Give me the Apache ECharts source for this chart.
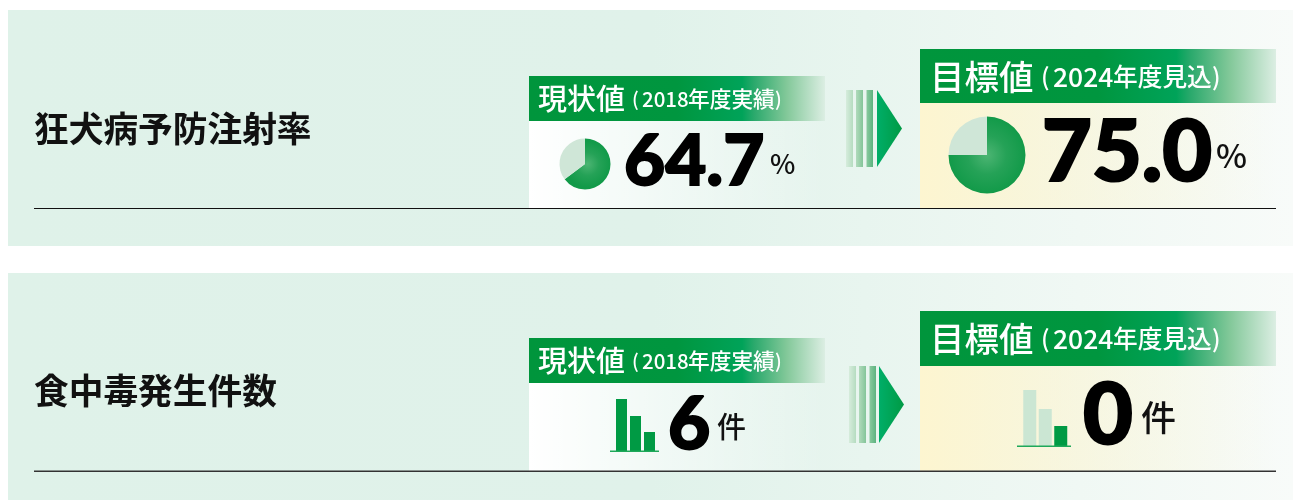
<!DOCTYPE html>
<html>
<head>
<meta charset="utf-8">
<style>
html, body { margin: 0; padding: 0; background: #fff; }
#main { width: 1293px; height: 500px; }
</style>
<script src="https://cdn.jsdelivr.net/npm/echarts@6/dist/echarts.min.js"></script>
</head>
<body>
<div id="main"></div>
<script>
var rowTitles = ['狂犬病予防注射率', '食中毒発生件数'];
var nowLabel = '現状値', goalLabel = '目標値';
var nowYear = ['2018', '年度実績'], goalYear = ['2024', '年度見込'];
var rateNow = 64.7, rateGoal = 75.0;
var countNow = 6, countGoal = 0;
var rateUnit = '%', countUnit = '件';
// icon bars, heights
var iconCats = ['a', 'b', 'c'];
var iconNow = [52, 35, 19];
var iconGoal = [56, 37, 20];

var JP = '"Noto Sans CJK JP"';
var NUM = 'Lato';
var GREEN = '#009a44', PALE = '#cbe6d3';

function grad(stops) {
    return {
        type: 'linear', x: 0, y: 0, x2: 1, y2: 0,
        colorStops: stops.map(function (s) { return { offset: s[0], color: s[1] }; })
    };
}
function box(x, y, w, h, fill, z) {
    return { type: 'rect', z: z || 0, shape: { x: x, y: y, width: w, height: h }, style: { fill: fill }, silent: true };
}
function label(str, x, y, size, weight, color, font) {
    return {
        type: 'text', z: 50, x: x, y: y, silent: true,
        style: {
            text: str, fill: color, fontSize: size, fontWeight: weight,
            fontFamily: font || JP, textVerticalAlign: 'middle', textAlign: 'left'
        }
    };
}
// big figures, Lato Black with a thin outline to get the heavier look
function figure(str, x, y, size) {
    var t = label(str, x, y, size, 900, '#000', NUM);
    t.style.stroke = '#000';
    t.style.lineWidth = size / 40;
    return t;
}
// header year, parens and digits spaced wider than one text run allows
function yearNowLabel(y) {
    return [
        label('(', 632, y, 19, 500, '#fff'),
        label(nowYear[0], 642, y, 20.5, 500, '#fff'),
        label(nowYear[1], 688, y, 21.7, 500, '#fff'),
        label(')', 775, y, 19, 500, '#fff')
    ];
}
function yearGoalLabel(y) {
    return [
        label('(', 1041, y, 24, 500, '#fff'),
        label(goalYear[0], 1053, y, 26.5, 500, '#fff'),
        label(goalYear[1], 1113, y, 24.7, 500, '#fff'),
        label(')', 1212, y, 24, 500, '#fff')
    ];
}
function arrow(x, top, bottom, tipX, triX) {
    var mid = (top + bottom) / 2;
    return [
        box(x, top, 7, bottom - top, grad([[0, '#d6ecdc'], [1, '#b5dcc0']]), 2),
        box(x + 10, top, 7, bottom - top, grad([[0, '#b0dabb'], [1, '#84c599']]), 2),
        box(x + 20.5, top, 6.5, bottom - top, grad([[0, '#8aca9f'], [1, '#5cb37f']]), 2),
        {
            type: 'polygon', z: 2, silent: true,
            shape: { points: [[triX, top], [tipX, mid], [triX, bottom]] },
            style: { fill: grad([[0, '#00ae68'], [1, '#009a44']]) }
        }
    ];
}

var panelFill = grad([[0, '#dff2e9'], [0.5, '#e0f2ea'], [1, '#f8fbf9']]);
var headFill = grad([[0, '#00953c'], [0.5, '#00963f'], [0.72, '#00a359'], [0.76, '#2aa96c'], [0.87, '#82c899'], [1, '#dceee3']]);
var bodyFillNow = grad([[0, '#ffffff'], [1, 'rgba(255,255,255,0)']]);
var bodyFillGoal = grad([[0, '#fdf5d0'], [1, 'rgba(253,245,208,0)']]);

var shapes = [
    box(8, 10, 1285, 236, panelFill),
    box(8, 273, 1285, 227, panelFill),
    // upper row
    box(529, 121, 296, 87, bodyFillNow, 1),
    box(920, 103, 356, 105, bodyFillGoal, 1),
    box(529, 76, 296, 45, headFill, 1),
    box(920, 49, 356, 54, headFill, 1),
    box(34, 208, 1242, 1, '#111', 3),
    // lower row
    box(529, 383, 296, 88, bodyFillNow, 1),
    box(920, 366, 356, 105, bodyFillGoal, 1),
    box(529, 338, 296, 45, headFill, 1),
    box(920, 311, 356, 55, headFill, 1),
    box(34, 470.5, 1242, 1.5, '#333', 3),
    // icon baselines
    box(610, 450.5, 49, 1.5, '#1fa85a', 3),
    box(1017, 445.5, 54, 1.5, '#1fa85a', 3)
];
shapes = shapes.concat(arrow(846, 90, 167, 902, 877), arrow(849, 366, 443, 904, 879));
shapes = shapes.concat(yearNowLabel(99), yearNowLabel(361), yearGoalLabel(77), yearGoalLabel(339));
shapes = shapes.concat([
    label(rowTitles[0], 34, 129, 34.7, 700, '#111'),
    label(rowTitles[1], 34, 391, 34.7, 700, '#111'),
    label(nowLabel, 538, 99, 29, 500, '#fff'),
    label(goalLabel, 930, 77, 34.5, 500, '#fff'),
    label(nowLabel, 538, 361, 29, 500, '#fff'),
    label(goalLabel, 930, 339, 34.5, 500, '#fff'),
    figure(rateNow.toFixed(1), 624, 162, 71),
    label(rateUnit, 770, 164, 27, 500, '#111', JP),
    figure(rateGoal.toFixed(1), 1042, 153, 86),
    label(rateUnit, 1216, 155, 33, 500, '#111', JP),
    figure(String(countNow), 668, 425, 73),
    label(countUnit, 717, 427, 29, 500, '#111'),
    figure(String(countGoal), 1083, 416, 86),
    label(countUnit, 1141, 418, 35, 500, '#111')
]);

function pie(center, radius, value) {
    return {
        type: 'pie', center: center, radius: [0, radius], startAngle: 90, clockwise: true,
        silent: true, animation: false, label: { show: false }, labelLine: { show: false },
        itemStyle: { borderWidth: 0 },
        data: [
            { value: value, itemStyle: { color: { type: 'radial', x: 0.5, y: 0.5, r: 0.5, colorStops: [{ offset: 0, color: '#4cb573' }, { offset: 0.5, color: '#25a257' }, { offset: 1, color: '#129a49' }] } } },
            { value: 100 - value, itemStyle: { color: '#cfe6d7' } }
        ]
    };
}
function iconSeries(idx, values, width, colors) {
    return {
        type: 'bar', xAxisIndex: idx, yAxisIndex: idx, barWidth: width, silent: true, animation: false,
        data: values.map(function (v, i) { return { value: v, itemStyle: { color: colors[i] } }; })
    };
}

var chart = echarts.init(document.getElementById('main'), null, { renderer: 'canvas' });
var option = {
    animation: false,
    graphic: { elements: shapes },
    grid: [
        { left: 614.5, top: 399, width: 42, height: 52 },
        { left: 1022, top: 390, width: 46.5, height: 56 }
    ],
    xAxis: [
        { gridIndex: 0, type: 'category', data: iconCats, show: false },
        { gridIndex: 1, type: 'category', data: iconCats, show: false }
    ],
    yAxis: [
        { gridIndex: 0, type: 'value', min: 0, max: 52, show: false },
        { gridIndex: 1, type: 'value', min: 0, max: 56, show: false }
    ],
    series: [
        pie([585, 164], 25.5, rateNow),
        pie([987, 155], 38.5, rateGoal),
        iconSeries(0, iconNow, 11, [GREEN, GREEN, GREEN]),
        iconSeries(1, iconGoal, 13, [PALE, PALE, GREEN])
    ]
};
chart.setOption(option);
</script>
</body>
</html>
